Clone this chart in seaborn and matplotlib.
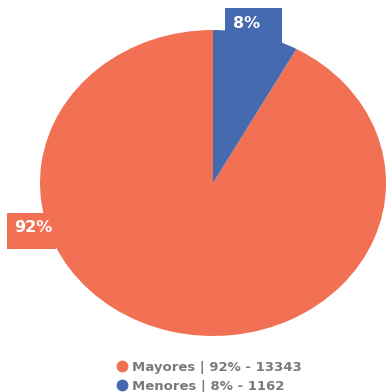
import matplotlib
matplotlib.use("Agg")
import matplotlib.pyplot as plt
from matplotlib.patches import Rectangle
from matplotlib.lines import Line2D
import seaborn as sns

categories = ["Mayores", "Menores"]
values = [13343, 1162]
percent_labels = ["92%", "8%"]
colors = ["#F27155", "#466AB0"]

sns.set_theme(style="white")
plt.rcParams["font.family"] = ["DejaVu Sans"]

W, H = 386, 392
fig = plt.figure(figsize=(W / 100, H / 100), dpi=100)
ax = fig.add_axes([0, 0, 1, 1])

# pixel mapping for the elliptical pie
CX, CY, RX, RY = 213, 183, 173, 153
def px(x, y):
    return (x - CX) / RX, (CY - y) / RY

wedges, _ = ax.pie(values, colors=colors, startangle=90, counterclock=True,
                   wedgeprops=dict(linewidth=0))
ax.set_aspect("auto")
x0, _ = px(0, 0)
x1, _ = px(W, 0)
_, y1 = px(0, 0)
_, y0 = px(0, H)
ax.set_xlim(x0, x1)
ax.set_ylim(y0, y1)
ax.axis("off")

# label boxes (pixel boxes: left, top, right, bottom; text left, text center y)
label_boxes = {
    "Menores": ((225, 8, 282, 45), (233, 23)),
    "Mayores": ((7, 213, 56, 249), (14, 228)),
}
for cat, pl, col in zip(categories, percent_labels, colors):
    (l, t, r, b), (tx, ty) = label_boxes[cat]
    bx, by = px(l, b)
    bx2, by2 = px(r, t)
    ax.add_patch(Rectangle((bx, by), bx2 - bx, by2 - by, facecolor=col,
                           edgecolor="none", clip_on=False, zorder=3))
    tdx, tdy = px(tx, ty)
    ax.text(tdx, tdy, pl, color="white", fontsize=11.5, fontweight="bold",
            ha="left", va="center", zorder=4)

total = sum(values)
handles = [Line2D([0], [0], marker="o", linestyle="none", markersize=7.5,
                  markerfacecolor=c, markeredgecolor=c) for c in colors]
labels = [f"{c} | {round(v / total * 100)}% - {v}" for c, v in zip(categories, values)]
leg = fig.legend(handles, labels, loc="upper left",
                 bbox_to_anchor=(117 / W, 1 - 361 / H), frameon=False,
                 borderpad=0, borderaxespad=0, handlelength=0.8,
                 handletextpad=0.35, labelspacing=0.45,
                 prop=dict(size=9.5, weight="bold"))
for t in leg.get_texts():
    t.set_color("#7A7A7A")

fig.savefig("out.png", dpi=100)
